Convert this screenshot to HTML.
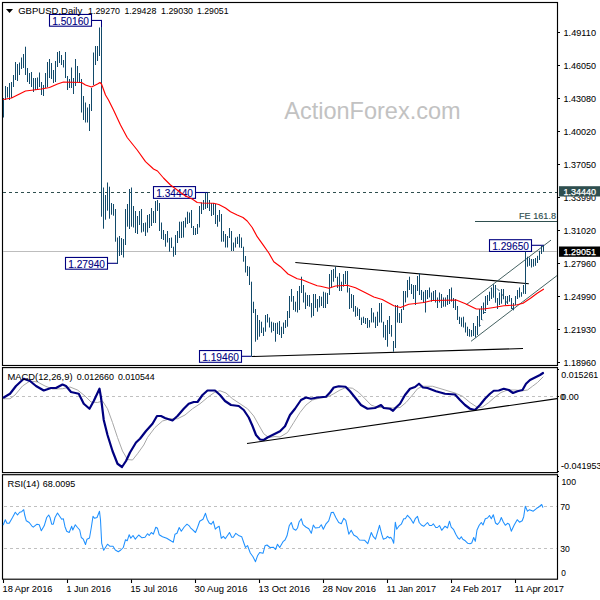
<!DOCTYPE html>
<html><head><meta charset="utf-8"><title>GBPUSD Daily</title>
<style>
html,body{margin:0;padding:0;background:#fff;}
body{width:600px;height:600px;overflow:hidden;}
svg{display:block;font-family:"Liberation Sans",sans-serif;}
</style></head><body>
<svg width="600" height="600" viewBox="0 0 600 600">
<rect width="600" height="600" fill="#fff"/>
<rect x="2.5" y="2.5" width="555" height="363" fill="none" stroke="#000" stroke-width="1.15"/>
<rect x="2.5" y="367.6" width="555" height="105.0" fill="none" stroke="#000" stroke-width="1.15"/>
<rect x="2.5" y="474.7" width="555" height="104.50000000000006" fill="none" stroke="#000" stroke-width="1.15"/>
<line x1="3" y1="251.5" x2="557" y2="251.5" stroke="#bdbdbd" stroke-width="1" shape-rendering="crispEdges" />
<line x1="3" y1="192.5" x2="557" y2="192.5" stroke="#2f4f4f" stroke-width="1" stroke-dasharray="3,3" shape-rendering="crispEdges"/>
<text x="284.2" y="118.8" font-size="23.8" fill="#c2c2c2" text-anchor="start" textLength="176.5" lengthAdjust="spacingAndGlyphs"  >ActionForex.com</text>
<line x1="475" y1="221.5" x2="557" y2="221.5" stroke="#2f4f4f" stroke-width="1" shape-rendering="crispEdges" />
<text x="519" y="219.3" font-size="9.6" fill="#2f4f4f" text-anchor="start" textLength="37" lengthAdjust="spacingAndGlyphs" stroke="#2f4f4f" stroke-width="0.15" >FE 161.8</text>
<line x1="295.3" y1="262.5" x2="528.8" y2="283.8" stroke="#000" stroke-width="1.1"/>
<line x1="252" y1="356.5" x2="523" y2="348.5" stroke="#000" stroke-width="1.1"/>
<line x1="466" y1="304.9" x2="551" y2="240.1" stroke="#2f4f4f" stroke-width="0.9"/>
<line x1="471" y1="341.3" x2="557" y2="275.6" stroke="#2f4f4f" stroke-width="0.9"/>
<rect x="49.5" y="14.45" width="42" height="11.75" fill="#fff" stroke="#000080" stroke-width="1.1"/>
<text x="52.2" y="24.7" font-size="10.8" fill="#000080" text-anchor="start" textLength="36.8" lengthAdjust="spacingAndGlyphs" stroke="#000080" stroke-width="0.1" >1.50160</text>
<line x1="91.5" y1="20.45" x2="102" y2="20.45" stroke="#000080" stroke-width="1.1"/>
<line x1="101.5" y1="20" x2="101.5" y2="28" stroke="#000080" stroke-width="1"/>
<rect x="153.5" y="186.6" width="42" height="11.75" fill="#fff" stroke="#000080" stroke-width="1.1"/>
<text x="156.2" y="196.85" font-size="10.8" fill="#000080" text-anchor="start" textLength="36.8" lengthAdjust="spacingAndGlyphs" stroke="#000080" stroke-width="0.1" >1.34440</text>
<line x1="195.5" y1="192.5" x2="208" y2="192.5" stroke="#000080" stroke-width="1.1"/>
<rect x="65.5" y="257.45" width="42" height="11.75" fill="#fff" stroke="#000080" stroke-width="1.1"/>
<text x="68.2" y="267.7" font-size="10.8" fill="#000080" text-anchor="start" textLength="36.8" lengthAdjust="spacingAndGlyphs" stroke="#000080" stroke-width="0.1" >1.27940</text>
<line x1="107.5" y1="263.3" x2="118" y2="263.3" stroke="#000080" stroke-width="1.1"/>
<rect x="199.5" y="350.55" width="42" height="11.75" fill="#fff" stroke="#000080" stroke-width="1.1"/>
<text x="202.2" y="360.8" font-size="10.8" fill="#000080" text-anchor="start" textLength="36.8" lengthAdjust="spacingAndGlyphs" stroke="#000080" stroke-width="0.1" >1.19460</text>
<line x1="241.5" y1="356.3" x2="251.5" y2="356.3" stroke="#000080" stroke-width="1.1"/>
<rect x="489.5" y="239.7" width="42" height="11.75" fill="#fff" stroke="#000080" stroke-width="1.1"/>
<text x="492.2" y="249.95" font-size="10.8" fill="#000080" text-anchor="start" textLength="36.8" lengthAdjust="spacingAndGlyphs" stroke="#000080" stroke-width="0.1" >1.29650</text>
<line x1="531.5" y1="245.3" x2="544" y2="245.3" stroke="#000080" stroke-width="1.1"/>
<rect x="3" y="98.0" width="1" height="19.5" fill="#124a6a"/>
<rect x="5" y="86.0" width="1" height="14.0" fill="#124a6a"/>
<rect x="7" y="87.0" width="1" height="10.5" fill="#124a6a"/>
<rect x="9" y="83.0" width="1" height="17.0" fill="#124a6a"/>
<rect x="11" y="82.0" width="1" height="16.0" fill="#124a6a"/>
<rect x="13" y="75.0" width="1" height="12.0" fill="#124a6a"/>
<rect x="15" y="62.0" width="1" height="18.0" fill="#124a6a"/>
<rect x="17" y="64.0" width="1" height="17.0" fill="#124a6a"/>
<rect x="19" y="62.5" width="1" height="12.5" fill="#124a6a"/>
<rect x="21" y="57.5" width="1" height="11.5" fill="#124a6a"/>
<rect x="23" y="54.0" width="1" height="14.0" fill="#124a6a"/>
<rect x="25" y="46.7" width="1" height="28.3" fill="#124a6a"/>
<rect x="27" y="68.0" width="1" height="14.0" fill="#124a6a"/>
<rect x="29" y="73.0" width="1" height="11.0" fill="#124a6a"/>
<rect x="31" y="72.0" width="1" height="15.0" fill="#124a6a"/>
<rect x="33" y="78.0" width="1" height="14.0" fill="#124a6a"/>
<rect x="35" y="78.0" width="1" height="12.0" fill="#124a6a"/>
<rect x="37" y="77.5" width="1" height="12.5" fill="#124a6a"/>
<rect x="39" y="72.5" width="1" height="14.5" fill="#124a6a"/>
<rect x="41" y="82.0" width="1" height="13.0" fill="#124a6a"/>
<rect x="43" y="85.0" width="1" height="11.0" fill="#124a6a"/>
<rect x="45" y="73.0" width="1" height="15.0" fill="#124a6a"/>
<rect x="47" y="62.0" width="1" height="25.0" fill="#124a6a"/>
<rect x="49" y="59.0" width="1" height="19.0" fill="#124a6a"/>
<rect x="51" y="63.0" width="1" height="16.0" fill="#124a6a"/>
<rect x="53" y="70.0" width="1" height="13.0" fill="#124a6a"/>
<rect x="55" y="61.0" width="1" height="21.0" fill="#124a6a"/>
<rect x="57" y="52.0" width="1" height="15.0" fill="#124a6a"/>
<rect x="59" y="51.0" width="1" height="12.0" fill="#124a6a"/>
<rect x="61" y="55.0" width="1" height="10.0" fill="#124a6a"/>
<rect x="63" y="60.0" width="1" height="7.5" fill="#124a6a"/>
<rect x="65" y="52.0" width="1" height="26.0" fill="#124a6a"/>
<rect x="67" y="76.0" width="1" height="14.0" fill="#124a6a"/>
<rect x="69" y="79.0" width="1" height="9.0" fill="#124a6a"/>
<rect x="71" y="67.5" width="1" height="20.5" fill="#124a6a"/>
<rect x="73" y="78.0" width="1" height="16.0" fill="#124a6a"/>
<rect x="75" y="59.0" width="1" height="27.0" fill="#124a6a"/>
<rect x="77" y="66.0" width="1" height="16.0" fill="#124a6a"/>
<rect x="79" y="73.0" width="1" height="10.0" fill="#124a6a"/>
<rect x="81" y="79.0" width="1" height="33.5" fill="#124a6a"/>
<rect x="83" y="96.0" width="1" height="24.0" fill="#124a6a"/>
<rect x="85" y="102.5" width="1" height="20.0" fill="#124a6a"/>
<rect x="87" y="107.5" width="1" height="15.0" fill="#124a6a"/>
<rect x="89" y="104.0" width="1" height="27.0" fill="#124a6a"/>
<rect x="91" y="88.0" width="1" height="23.0" fill="#124a6a"/>
<rect x="93" y="52.5" width="1" height="32.5" fill="#124a6a"/>
<rect x="95" y="46.0" width="1" height="19.0" fill="#124a6a"/>
<rect x="97" y="46.0" width="1" height="15.0" fill="#124a6a"/>
<rect x="99" y="27.5" width="1" height="28.5" fill="#124a6a"/>
<rect x="101" y="27.0" width="1" height="189.7" fill="#124a6a"/>
<rect x="103" y="187.5" width="1" height="41.2" fill="#124a6a"/>
<rect x="105" y="195.0" width="1" height="24.7" fill="#124a6a"/>
<rect x="107" y="182.5" width="1" height="28.2" fill="#124a6a"/>
<rect x="109" y="186.7" width="1" height="32.0" fill="#124a6a"/>
<rect x="111" y="203.0" width="1" height="11.7" fill="#124a6a"/>
<rect x="113" y="204.0" width="1" height="11.7" fill="#124a6a"/>
<rect x="115" y="209.0" width="1" height="32.7" fill="#124a6a"/>
<rect x="117" y="237.5" width="1" height="26.4" fill="#124a6a"/>
<rect x="119" y="236.0" width="1" height="20.0" fill="#124a6a"/>
<rect x="121" y="238.0" width="1" height="17.0" fill="#124a6a"/>
<rect x="123" y="239.0" width="1" height="18.5" fill="#124a6a"/>
<rect x="125" y="209.0" width="1" height="36.0" fill="#124a6a"/>
<rect x="127" y="204.0" width="1" height="22.7" fill="#124a6a"/>
<rect x="129" y="189.0" width="1" height="40.0" fill="#124a6a"/>
<rect x="131" y="187.5" width="1" height="39.2" fill="#124a6a"/>
<rect x="133" y="206.0" width="1" height="21.5" fill="#124a6a"/>
<rect x="135" y="211.0" width="1" height="22.0" fill="#124a6a"/>
<rect x="137" y="216.0" width="1" height="18.0" fill="#124a6a"/>
<rect x="139" y="211.0" width="1" height="14.0" fill="#124a6a"/>
<rect x="141" y="209.0" width="1" height="23.5" fill="#124a6a"/>
<rect x="143" y="223.0" width="1" height="8.7" fill="#124a6a"/>
<rect x="145" y="222.5" width="1" height="13.5" fill="#124a6a"/>
<rect x="147" y="215.0" width="1" height="17.5" fill="#124a6a"/>
<rect x="149" y="214.0" width="1" height="14.0" fill="#124a6a"/>
<rect x="151" y="208.0" width="1" height="18.0" fill="#124a6a"/>
<rect x="153" y="211.0" width="1" height="12.0" fill="#124a6a"/>
<rect x="155" y="201.0" width="1" height="22.0" fill="#124a6a"/>
<rect x="157" y="200.0" width="1" height="11.0" fill="#124a6a"/>
<rect x="159" y="203.0" width="1" height="28.0" fill="#124a6a"/>
<rect x="161" y="222.5" width="1" height="16.5" fill="#124a6a"/>
<rect x="163" y="230.0" width="1" height="10.0" fill="#124a6a"/>
<rect x="165" y="234.0" width="1" height="12.7" fill="#124a6a"/>
<rect x="167" y="231.0" width="1" height="11.5" fill="#124a6a"/>
<rect x="169" y="238.0" width="1" height="13.7" fill="#124a6a"/>
<rect x="171" y="237.5" width="1" height="10.5" fill="#124a6a"/>
<rect x="173" y="246.7" width="1" height="10.0" fill="#124a6a"/>
<rect x="175" y="235.0" width="1" height="20.0" fill="#124a6a"/>
<rect x="177" y="231.0" width="1" height="12.0" fill="#124a6a"/>
<rect x="179" y="221.7" width="1" height="16.3" fill="#124a6a"/>
<rect x="181" y="221.7" width="1" height="16.3" fill="#124a6a"/>
<rect x="183" y="221.0" width="1" height="16.5" fill="#124a6a"/>
<rect x="185" y="217.5" width="1" height="10.0" fill="#124a6a"/>
<rect x="187" y="211.7" width="1" height="12.3" fill="#124a6a"/>
<rect x="189" y="212.5" width="1" height="10.5" fill="#124a6a"/>
<rect x="191" y="210.0" width="1" height="18.0" fill="#124a6a"/>
<rect x="193" y="226.0" width="1" height="9.0" fill="#124a6a"/>
<rect x="195" y="228.0" width="1" height="7.0" fill="#124a6a"/>
<rect x="197" y="224.0" width="1" height="10.0" fill="#124a6a"/>
<rect x="199" y="206.0" width="1" height="21.5" fill="#124a6a"/>
<rect x="201" y="202.5" width="1" height="11.5" fill="#124a6a"/>
<rect x="203" y="200.0" width="1" height="10.0" fill="#124a6a"/>
<rect x="205" y="192.5" width="1" height="16.5" fill="#124a6a"/>
<rect x="207" y="192.5" width="1" height="15.5" fill="#124a6a"/>
<rect x="209" y="200.0" width="1" height="11.0" fill="#124a6a"/>
<rect x="211" y="203.0" width="1" height="13.0" fill="#124a6a"/>
<rect x="213" y="203.0" width="1" height="12.0" fill="#124a6a"/>
<rect x="215" y="204.0" width="1" height="20.0" fill="#124a6a"/>
<rect x="217" y="215.0" width="1" height="11.7" fill="#124a6a"/>
<rect x="219" y="210.0" width="1" height="11.7" fill="#124a6a"/>
<rect x="221" y="214.0" width="1" height="27.7" fill="#124a6a"/>
<rect x="223" y="231.0" width="1" height="10.7" fill="#124a6a"/>
<rect x="225" y="234.0" width="1" height="13.5" fill="#124a6a"/>
<rect x="227" y="236.0" width="1" height="11.5" fill="#124a6a"/>
<rect x="229" y="228.0" width="1" height="10.0" fill="#124a6a"/>
<rect x="231" y="231.0" width="1" height="20.0" fill="#124a6a"/>
<rect x="233" y="242.5" width="1" height="8.5" fill="#124a6a"/>
<rect x="235" y="237.5" width="1" height="10.0" fill="#124a6a"/>
<rect x="237" y="236.7" width="1" height="7.3" fill="#124a6a"/>
<rect x="239" y="234.0" width="1" height="13.5" fill="#124a6a"/>
<rect x="241" y="237.5" width="1" height="10.5" fill="#124a6a"/>
<rect x="243" y="246.7" width="1" height="15.0" fill="#124a6a"/>
<rect x="245" y="256.0" width="1" height="16.5" fill="#124a6a"/>
<rect x="247" y="266.0" width="1" height="10.0" fill="#124a6a"/>
<rect x="249" y="266.7" width="1" height="18.3" fill="#124a6a"/>
<rect x="251" y="281.7" width="1" height="75.0" fill="#124a6a"/>
<rect x="253" y="301.7" width="1" height="11.3" fill="#124a6a"/>
<rect x="255" y="309.0" width="1" height="32.7" fill="#124a6a"/>
<rect x="257" y="315.0" width="1" height="24.8" fill="#124a6a"/>
<rect x="259" y="320.0" width="1" height="16.7" fill="#124a6a"/>
<rect x="261" y="321.7" width="1" height="11.3" fill="#124a6a"/>
<rect x="263" y="327.5" width="1" height="8.5" fill="#124a6a"/>
<rect x="265" y="315.0" width="1" height="16.7" fill="#124a6a"/>
<rect x="267" y="314.0" width="1" height="8.5" fill="#124a6a"/>
<rect x="269" y="317.5" width="1" height="10.0" fill="#124a6a"/>
<rect x="271" y="321.7" width="1" height="10.8" fill="#124a6a"/>
<rect x="273" y="322.5" width="1" height="8.5" fill="#124a6a"/>
<rect x="275" y="323.0" width="1" height="18.7" fill="#124a6a"/>
<rect x="277" y="322.5" width="1" height="11.5" fill="#124a6a"/>
<rect x="279" y="321.0" width="1" height="14.0" fill="#124a6a"/>
<rect x="281" y="326.7" width="1" height="11.3" fill="#124a6a"/>
<rect x="283" y="322.5" width="1" height="11.5" fill="#124a6a"/>
<rect x="285" y="320.0" width="1" height="8.0" fill="#124a6a"/>
<rect x="287" y="311.0" width="1" height="15.7" fill="#124a6a"/>
<rect x="289" y="296.0" width="1" height="22.0" fill="#124a6a"/>
<rect x="291" y="289.0" width="1" height="12.7" fill="#124a6a"/>
<rect x="293" y="296.0" width="1" height="14.0" fill="#124a6a"/>
<rect x="295" y="301.7" width="1" height="10.0" fill="#124a6a"/>
<rect x="297" y="291.0" width="1" height="21.5" fill="#124a6a"/>
<rect x="299" y="286.0" width="1" height="24.0" fill="#124a6a"/>
<rect x="301" y="276.7" width="1" height="16.3" fill="#124a6a"/>
<rect x="303" y="285.0" width="1" height="17.5" fill="#124a6a"/>
<rect x="305" y="292.5" width="1" height="16.5" fill="#124a6a"/>
<rect x="307" y="295.0" width="1" height="11.0" fill="#124a6a"/>
<rect x="309" y="295.0" width="1" height="11.7" fill="#124a6a"/>
<rect x="311" y="303.0" width="1" height="14.5" fill="#124a6a"/>
<rect x="313" y="294.0" width="1" height="22.0" fill="#124a6a"/>
<rect x="315" y="294.0" width="1" height="14.0" fill="#124a6a"/>
<rect x="317" y="299.0" width="1" height="12.7" fill="#124a6a"/>
<rect x="319" y="296.0" width="1" height="11.5" fill="#124a6a"/>
<rect x="321" y="296.7" width="1" height="9.3" fill="#124a6a"/>
<rect x="323" y="291.7" width="1" height="16.3" fill="#124a6a"/>
<rect x="325" y="292.5" width="1" height="15.5" fill="#124a6a"/>
<rect x="327" y="293.0" width="1" height="11.0" fill="#124a6a"/>
<rect x="329" y="274.0" width="1" height="21.0" fill="#124a6a"/>
<rect x="331" y="270.0" width="1" height="17.5" fill="#124a6a"/>
<rect x="333" y="269.0" width="1" height="12.7" fill="#124a6a"/>
<rect x="335" y="266.7" width="1" height="11.3" fill="#124a6a"/>
<rect x="337" y="276.7" width="1" height="11.3" fill="#124a6a"/>
<rect x="339" y="273.0" width="1" height="18.0" fill="#124a6a"/>
<rect x="341" y="281.7" width="1" height="9.3" fill="#124a6a"/>
<rect x="343" y="274.0" width="1" height="12.7" fill="#124a6a"/>
<rect x="345" y="271.0" width="1" height="13.0" fill="#124a6a"/>
<rect x="347" y="271.0" width="1" height="21.5" fill="#124a6a"/>
<rect x="349" y="288.0" width="1" height="21.0" fill="#124a6a"/>
<rect x="351" y="294.0" width="1" height="14.0" fill="#124a6a"/>
<rect x="353" y="295.0" width="1" height="16.7" fill="#124a6a"/>
<rect x="355" y="306.0" width="1" height="10.7" fill="#124a6a"/>
<rect x="357" y="307.5" width="1" height="8.5" fill="#124a6a"/>
<rect x="359" y="309.0" width="1" height="11.0" fill="#124a6a"/>
<rect x="361" y="317.5" width="1" height="7.5" fill="#124a6a"/>
<rect x="363" y="316.7" width="1" height="6.3" fill="#124a6a"/>
<rect x="365" y="318.0" width="1" height="6.0" fill="#124a6a"/>
<rect x="367" y="318.0" width="1" height="10.0" fill="#124a6a"/>
<rect x="369" y="320.0" width="1" height="7.5" fill="#124a6a"/>
<rect x="371" y="308.0" width="1" height="14.5" fill="#124a6a"/>
<rect x="373" y="312.5" width="1" height="10.0" fill="#124a6a"/>
<rect x="375" y="316.7" width="1" height="11.3" fill="#124a6a"/>
<rect x="377" y="311.7" width="1" height="14.3" fill="#124a6a"/>
<rect x="379" y="303.0" width="1" height="19.5" fill="#124a6a"/>
<rect x="381" y="303.0" width="1" height="19.5" fill="#124a6a"/>
<rect x="383" y="321.7" width="1" height="15.8" fill="#124a6a"/>
<rect x="385" y="325.0" width="1" height="15.0" fill="#124a6a"/>
<rect x="387" y="320.0" width="1" height="26.7" fill="#124a6a"/>
<rect x="389" y="316.0" width="1" height="18.0" fill="#124a6a"/>
<rect x="391" y="325.0" width="1" height="11.7" fill="#124a6a"/>
<rect x="393" y="341.0" width="1" height="10.7" fill="#124a6a"/>
<rect x="395" y="305.0" width="1" height="43.0" fill="#124a6a"/>
<rect x="397" y="305.0" width="1" height="17.5" fill="#124a6a"/>
<rect x="399" y="313.0" width="1" height="10.0" fill="#124a6a"/>
<rect x="401" y="309.0" width="1" height="14.0" fill="#124a6a"/>
<rect x="403" y="291.0" width="1" height="19.0" fill="#124a6a"/>
<rect x="405" y="291.0" width="1" height="11.5" fill="#124a6a"/>
<rect x="407" y="280.0" width="1" height="17.5" fill="#124a6a"/>
<rect x="409" y="276.7" width="1" height="13.3" fill="#124a6a"/>
<rect x="411" y="284.0" width="1" height="10.0" fill="#124a6a"/>
<rect x="413" y="285.0" width="1" height="14.0" fill="#124a6a"/>
<rect x="415" y="285.0" width="1" height="20.0" fill="#124a6a"/>
<rect x="417" y="276.0" width="1" height="15.0" fill="#124a6a"/>
<rect x="419" y="273.0" width="1" height="22.0" fill="#124a6a"/>
<rect x="421" y="290.0" width="1" height="10.0" fill="#124a6a"/>
<rect x="423" y="291.7" width="1" height="11.3" fill="#124a6a"/>
<rect x="425" y="290.0" width="1" height="22.5" fill="#124a6a"/>
<rect x="427" y="290.0" width="1" height="9.0" fill="#124a6a"/>
<rect x="429" y="287.5" width="1" height="10.0" fill="#124a6a"/>
<rect x="431" y="292.5" width="1" height="9.2" fill="#124a6a"/>
<rect x="433" y="291.0" width="1" height="9.0" fill="#124a6a"/>
<rect x="435" y="290.0" width="1" height="12.5" fill="#124a6a"/>
<rect x="437" y="297.5" width="1" height="10.5" fill="#124a6a"/>
<rect x="439" y="292.5" width="1" height="10.0" fill="#124a6a"/>
<rect x="441" y="294.0" width="1" height="14.0" fill="#124a6a"/>
<rect x="443" y="297.5" width="1" height="9.2" fill="#124a6a"/>
<rect x="445" y="297.5" width="1" height="9.2" fill="#124a6a"/>
<rect x="447" y="295.0" width="1" height="10.0" fill="#124a6a"/>
<rect x="449" y="289.0" width="1" height="15.0" fill="#124a6a"/>
<rect x="451" y="287.5" width="1" height="14.2" fill="#124a6a"/>
<rect x="453" y="298.0" width="1" height="10.0" fill="#124a6a"/>
<rect x="455" y="299.0" width="1" height="11.0" fill="#124a6a"/>
<rect x="457" y="306.0" width="1" height="14.0" fill="#124a6a"/>
<rect x="459" y="316.7" width="1" height="7.3" fill="#124a6a"/>
<rect x="461" y="317.5" width="1" height="9.2" fill="#124a6a"/>
<rect x="463" y="316.7" width="1" height="10.8" fill="#124a6a"/>
<rect x="465" y="322.5" width="1" height="10.0" fill="#124a6a"/>
<rect x="467" y="326.7" width="1" height="9.3" fill="#124a6a"/>
<rect x="469" y="329.0" width="1" height="7.7" fill="#124a6a"/>
<rect x="471" y="330.0" width="1" height="6.7" fill="#124a6a"/>
<rect x="473" y="323.0" width="1" height="13.0" fill="#124a6a"/>
<rect x="475" y="326.0" width="1" height="11.5" fill="#124a6a"/>
<rect x="477" y="316.0" width="1" height="19.0" fill="#124a6a"/>
<rect x="479" y="309.0" width="1" height="17.7" fill="#124a6a"/>
<rect x="481" y="306.0" width="1" height="14.0" fill="#124a6a"/>
<rect x="483" y="302.5" width="1" height="11.5" fill="#124a6a"/>
<rect x="485" y="296.0" width="1" height="15.0" fill="#124a6a"/>
<rect x="487" y="295.0" width="1" height="10.0" fill="#124a6a"/>
<rect x="489" y="291.7" width="1" height="9.3" fill="#124a6a"/>
<rect x="491" y="287.5" width="1" height="11.5" fill="#124a6a"/>
<rect x="493" y="284.3" width="1" height="13.4" fill="#124a6a"/>
<rect x="495" y="285.0" width="1" height="17.7" fill="#124a6a"/>
<rect x="497" y="298.0" width="1" height="11.0" fill="#124a6a"/>
<rect x="499" y="292.5" width="1" height="12.5" fill="#124a6a"/>
<rect x="501" y="289.0" width="1" height="14.7" fill="#124a6a"/>
<rect x="503" y="289.0" width="1" height="10.3" fill="#124a6a"/>
<rect x="505" y="296.0" width="1" height="9.0" fill="#124a6a"/>
<rect x="507" y="296.0" width="1" height="8.0" fill="#124a6a"/>
<rect x="509" y="295.0" width="1" height="6.7" fill="#124a6a"/>
<rect x="511" y="298.0" width="1" height="11.0" fill="#124a6a"/>
<rect x="513" y="303.0" width="1" height="7.3" fill="#124a6a"/>
<rect x="515" y="296.0" width="1" height="9.0" fill="#124a6a"/>
<rect x="517" y="290.0" width="1" height="9.0" fill="#124a6a"/>
<rect x="519" y="287.5" width="1" height="10.0" fill="#124a6a"/>
<rect x="521" y="292.2" width="1" height="4.5" fill="#124a6a"/>
<rect x="523" y="285.0" width="1" height="8.8" fill="#124a6a"/>
<rect x="525" y="251.7" width="1" height="42.3" fill="#124a6a"/>
<rect x="527" y="256.7" width="1" height="10.0" fill="#124a6a"/>
<rect x="529" y="257.5" width="1" height="8.3" fill="#124a6a"/>
<rect x="531" y="259.0" width="1" height="8.5" fill="#124a6a"/>
<rect x="533" y="259.0" width="1" height="7.7" fill="#124a6a"/>
<rect x="535" y="258.0" width="1" height="7.8" fill="#124a6a"/>
<rect x="537" y="255.8" width="1" height="7.2" fill="#124a6a"/>
<rect x="539" y="250.8" width="1" height="9.2" fill="#124a6a"/>
<rect x="541" y="245.8" width="1" height="8.2" fill="#124a6a"/>
<rect x="543" y="245.3" width="1" height="6.4" fill="#124a6a"/>
<line x1="497" y1="288.5" x2="499.5" y2="291" stroke="#124a6a" stroke-width="0.9"/>
<line x1="502" y1="295" x2="503.6" y2="295" stroke="#124a6a" stroke-width="0.9"/>
<line x1="506" y1="302" x2="507.6" y2="302" stroke="#124a6a" stroke-width="0.9"/>
<line x1="484" y1="312.5" x2="486" y2="312.5" stroke="#124a6a" stroke-width="0.9"/>
<line x1="481.3" y1="319" x2="482.6" y2="320.3" stroke="#124a6a" stroke-width="0.9"/>
<line x1="479.3" y1="324.5" x2="480.6" y2="325.8" stroke="#124a6a" stroke-width="0.9"/>
<line x1="511.5" y1="308.5" x2="514" y2="308.5" stroke="#124a6a" stroke-width="0.9"/>
<line x1="491" y1="288.3" x2="491.6" y2="289.6" stroke="#124a6a" stroke-width="0.9"/>
<polyline points="3.50,99.50 11.50,98.00 25.50,91.00 33.50,90.00 41.50,89.00 49.50,87.50 57.50,84.00 63.50,82.00 81.50,82.50 85.50,85.00 91.50,87.00 97.50,84.00 100.00,82.50 101.50,84.00 105.50,95.00 108.50,100.00 113.50,110.00 120.50,125.00 127.20,137.50 137.20,150.00 145.50,161.70 153.50,169.00 157.50,171.00 163.50,178.00 170.50,185.00 180.50,192.50 185.50,196.00 192.20,199.00 197.20,202.50 202.20,203.00 213.80,203.30 218.80,204.50 225.50,208.00 230.50,211.70 237.20,215.00 243.00,217.50 247.20,221.00 252.20,227.50 257.20,236.70 263.80,245.80 268.80,253.00 273.80,261.70 280.50,266.70 288.00,274.00 297.20,278.80 302.20,279.70 308.80,282.50 317.20,285.80 320.50,286.30 328.80,288.30 335.50,286.00 347.20,285.30 355.50,287.80 365.50,292.80 373.80,297.00 382.20,299.50 393.80,305.80 400.50,307.50 408.80,304.20 415.50,303.50 423.80,302.50 432.20,300.50 456.30,300.00 465.50,303.70 476.30,309.00 483.80,309.00 493.80,307.50 503.80,305.80 516.30,305.00 523.00,303.30 530.50,298.30 537.20,293.30 543.50,289.20" fill="none" stroke="#ff0000" stroke-width="1.15" stroke-linejoin="round" stroke-linecap="round" />
<line x1="558" y1="32.5" x2="560" y2="32.5" stroke="#000" stroke-width="1" shape-rendering="crispEdges" />
<text x="563.5" y="36" font-size="9.8" fill="#000" text-anchor="start" textLength="32.5" lengthAdjust="spacingAndGlyphs" stroke="#000" stroke-width="0.05" >1.49110</text>
<line x1="558" y1="65.5" x2="560" y2="65.5" stroke="#000" stroke-width="1" shape-rendering="crispEdges" />
<text x="563.5" y="69" font-size="9.8" fill="#000" text-anchor="start" textLength="32.5" lengthAdjust="spacingAndGlyphs" stroke="#000" stroke-width="0.05" >1.46050</text>
<line x1="558" y1="98.5" x2="560" y2="98.5" stroke="#000" stroke-width="1" shape-rendering="crispEdges" />
<text x="563.5" y="102" font-size="9.8" fill="#000" text-anchor="start" textLength="32.5" lengthAdjust="spacingAndGlyphs" stroke="#000" stroke-width="0.05" >1.43080</text>
<line x1="558" y1="131.5" x2="560" y2="131.5" stroke="#000" stroke-width="1" shape-rendering="crispEdges" />
<text x="563.5" y="135" font-size="9.8" fill="#000" text-anchor="start" textLength="32.5" lengthAdjust="spacingAndGlyphs" stroke="#000" stroke-width="0.05" >1.40020</text>
<line x1="558" y1="164.5" x2="560" y2="164.5" stroke="#000" stroke-width="1" shape-rendering="crispEdges" />
<text x="563.5" y="168" font-size="9.8" fill="#000" text-anchor="start" textLength="32.5" lengthAdjust="spacingAndGlyphs" stroke="#000" stroke-width="0.05" >1.37050</text>
<line x1="558" y1="197.5" x2="560" y2="197.5" stroke="#000" stroke-width="1" shape-rendering="crispEdges" />
<text x="563.5" y="201" font-size="9.8" fill="#000" text-anchor="start" textLength="32.5" lengthAdjust="spacingAndGlyphs" stroke="#000" stroke-width="0.05" >1.33990</text>
<line x1="558" y1="230.5" x2="560" y2="230.5" stroke="#000" stroke-width="1" shape-rendering="crispEdges" />
<text x="563.5" y="234" font-size="9.8" fill="#000" text-anchor="start" textLength="32.5" lengthAdjust="spacingAndGlyphs" stroke="#000" stroke-width="0.05" >1.31020</text>
<line x1="558" y1="263.5" x2="560" y2="263.5" stroke="#000" stroke-width="1" shape-rendering="crispEdges" />
<text x="563.5" y="267" font-size="9.8" fill="#000" text-anchor="start" textLength="32.5" lengthAdjust="spacingAndGlyphs" stroke="#000" stroke-width="0.05" >1.27960</text>
<line x1="558" y1="296.5" x2="560" y2="296.5" stroke="#000" stroke-width="1" shape-rendering="crispEdges" />
<text x="563.5" y="300" font-size="9.8" fill="#000" text-anchor="start" textLength="32.5" lengthAdjust="spacingAndGlyphs" stroke="#000" stroke-width="0.05" >1.24990</text>
<line x1="558" y1="329.5" x2="560" y2="329.5" stroke="#000" stroke-width="1" shape-rendering="crispEdges" />
<text x="563.5" y="333" font-size="9.8" fill="#000" text-anchor="start" textLength="32.5" lengthAdjust="spacingAndGlyphs" stroke="#000" stroke-width="0.05" >1.21930</text>
<line x1="558" y1="362.5" x2="560" y2="362.5" stroke="#000" stroke-width="1" shape-rendering="crispEdges" />
<text x="563.5" y="366" font-size="9.8" fill="#000" text-anchor="start" textLength="32.5" lengthAdjust="spacingAndGlyphs" stroke="#000" stroke-width="0.05" >1.18960</text>
<rect x="559" y="186.2" width="41" height="10.3" fill="#2f4f4f"/>
<text x="563.5" y="194.8" font-size="9.8" fill="#fff" text-anchor="start" textLength="32.5" lengthAdjust="spacingAndGlyphs" stroke="#fff" stroke-width="0.25" >1.34440</text>
<rect x="559" y="246.5" width="41" height="10.3" fill="#000"/>
<text x="563.5" y="254.8" font-size="9.8" fill="#fff" text-anchor="start" textLength="32.5" lengthAdjust="spacingAndGlyphs" stroke="#fff" stroke-width="0.25" >1.29051</text>
<polygon points="6,9 13,9 9.5,13" fill="#000"/>
<text x="18.2" y="14" font-size="9.8" fill="#000" text-anchor="start" textLength="64" lengthAdjust="spacingAndGlyphs" stroke="#000" stroke-width="0.05" >GBPUSD,Daily</text>
<text x="88" y="14" font-size="9.8" fill="#000" text-anchor="start" textLength="32" lengthAdjust="spacingAndGlyphs" stroke="#000" stroke-width="0.05" >1.29270</text>
<text x="124.4" y="14" font-size="9.8" fill="#000" text-anchor="start" textLength="32" lengthAdjust="spacingAndGlyphs" stroke="#000" stroke-width="0.05" >1.29428</text>
<text x="161" y="14" font-size="9.8" fill="#000" text-anchor="start" textLength="32" lengthAdjust="spacingAndGlyphs" stroke="#000" stroke-width="0.05" >1.29030</text>
<text x="197" y="14" font-size="9.8" fill="#000" text-anchor="start" textLength="31.5" lengthAdjust="spacingAndGlyphs" stroke="#000" stroke-width="0.05" >1.29051</text>
<line x1="3" y1="396.5" x2="557" y2="396.5" stroke="#c0c0c0" stroke-width="1" stroke-dasharray="3,3" stroke-dashoffset="5" shape-rendering="crispEdges"/>
<polyline points="3.75,398.75 10.00,398.75 15.00,395.00 22.50,386.00 30.00,381.00 37.50,382.00 45.00,386.00 52.50,389.00 62.50,388.75 70.00,387.00 77.50,390.00 85.00,396.00 91.00,402.00 97.50,402.50 102.50,401.00 107.50,408.75 112.50,422.50 117.50,437.50 122.50,451.00 127.50,459.50 132.50,460.00 137.50,453.75 143.75,445.00 147.50,437.50 155.00,427.50 162.50,421.00 170.00,418.75 177.50,418.75 185.00,415.00 192.50,408.75 200.00,403.75 207.50,397.50 215.00,392.00 220.00,390.75 226.00,393.00 232.50,398.75 240.00,403.75 247.50,408.75 253.75,416.00 258.75,425.00 263.75,433.75 268.75,437.50 275.00,436.50 280.00,437.00 287.50,432.50 293.75,422.50 300.00,412.50 306.00,405.00 312.50,400.00 320.00,398.00 327.50,397.00 333.75,393.75 340.00,390.00 346.00,387.50 352.50,388.25 358.75,392.50 365.00,398.75 371.00,405.00 377.50,407.50 385.00,407.50 392.50,408.00 400.00,407.50 406.00,402.50 412.50,395.00 417.50,388.75 422.50,386.25 432.50,386.25 445.00,390.00 455.00,393.00 462.50,396.25 470.00,402.50 477.50,407.50 482.50,407.00 488.75,402.50 495.00,397.00 501.00,392.50 507.50,390.00 515.00,390.00 522.50,390.75 527.50,390.00 532.50,386.25 537.50,382.50 543.00,377.00" fill="none" stroke="#a8a8a8" stroke-width="1.0" stroke-linejoin="round" stroke-linecap="round" />
<polyline points="3.75,397.50 10.00,393.75 16.00,386.00 23.75,378.75 30.00,381.00 36.00,386.00 43.75,390.50 51.00,388.00 56.00,388.00 62.50,384.50 66.00,386.00 71.00,392.00 78.75,393.75 83.75,403.75 89.50,408.75 93.75,401.00 99.50,388.75 101.00,397.50 103.75,420.00 107.50,435.00 112.50,451.00 117.50,463.75 122.00,467.00 126.00,461.00 130.00,452.50 136.00,442.50 140.00,438.75 146.00,431.00 152.50,423.75 157.00,416.00 161.00,416.00 165.00,418.00 172.50,420.50 177.50,416.00 183.75,408.75 188.75,403.75 193.75,402.00 197.50,402.00 202.50,395.00 207.50,390.50 215.00,390.50 220.00,395.00 225.00,401.00 231.00,405.00 238.75,406.00 243.75,410.00 248.75,417.50 252.50,426.00 256.00,435.00 260.00,439.50 263.75,440.00 267.50,437.50 275.00,433.75 280.00,431.25 285.00,426.25 290.00,415.00 295.00,408.75 301.00,400.00 306.00,397.50 311.00,398.75 317.50,397.50 326.00,396.75 330.00,392.50 333.75,387.50 338.75,386.25 345.50,386.75 350.00,391.25 355.00,397.50 361.00,405.00 367.50,408.75 375.00,408.00 381.00,405.00 383.75,408.00 390.00,408.75 393.00,410.75 396.00,407.50 400.00,403.75 405.00,395.00 410.00,388.75 415.00,387.00 419.00,383.75 423.00,387.50 427.50,388.00 436.00,391.25 445.00,393.75 455.00,394.50 460.00,400.00 465.00,405.00 470.00,408.75 475.00,410.00 480.00,405.00 485.00,398.75 490.00,393.75 493.75,390.75 498.75,390.50 503.75,388.75 508.75,390.00 513.00,393.00 517.50,391.25 522.50,390.00 526.00,383.75 530.00,380.00 535.00,377.50 540.00,375.00 543.00,373.00" fill="none" stroke="#000080" stroke-width="2.2" stroke-linejoin="round" stroke-linecap="round" />
<line x1="247" y1="443.5" x2="557" y2="398.6" stroke="#000" stroke-width="1.1"/>
<text x="7.5" y="379.8" font-size="9.8" fill="#000" text-anchor="start" textLength="65" lengthAdjust="spacingAndGlyphs" stroke="#000" stroke-width="0.05" >MACD(12,26,9)</text>
<text x="76.8" y="379.8" font-size="9.8" fill="#000" text-anchor="start" textLength="37.2" lengthAdjust="spacingAndGlyphs" stroke="#000" stroke-width="0.05" >0.012660</text>
<text x="117.9" y="379.8" font-size="9.8" fill="#000" text-anchor="start" textLength="36.8" lengthAdjust="spacingAndGlyphs" stroke="#000" stroke-width="0.05" >0.010544</text>
<text x="561.3" y="378" font-size="9.8" fill="#000" text-anchor="start" textLength="37" lengthAdjust="spacingAndGlyphs" stroke="#000" stroke-width="0.05" >0.015261</text>
<text x="560" y="399.6" font-size="9.8" fill="#000" text-anchor="start" textLength="4.8" lengthAdjust="spacingAndGlyphs" stroke="#000" stroke-width="0.05" >0</text>
<text x="561.3" y="399.6" font-size="9.8" fill="#000" text-anchor="start" textLength="17.5" lengthAdjust="spacingAndGlyphs" stroke="#000" stroke-width="0.05" >0.00</text>
<line x1="558" y1="396.5" x2="559" y2="396.5" stroke="#000" stroke-width="1" shape-rendering="crispEdges" />
<line x1="558" y1="369.5" x2="559" y2="369.5" stroke="#000" stroke-width="1" shape-rendering="crispEdges" />
<line x1="558" y1="471.5" x2="559" y2="471.5" stroke="#000" stroke-width="1" shape-rendering="crispEdges" />
<line x1="558" y1="476.5" x2="559" y2="476.5" stroke="#000" stroke-width="1" shape-rendering="crispEdges" />
<text x="561" y="468.5" font-size="9.8" fill="#000" text-anchor="start" textLength="40.5" lengthAdjust="spacingAndGlyphs" stroke="#000" stroke-width="0.05" >-0.041953</text>
<line x1="3" y1="506.5" x2="557" y2="506.5" stroke="#c0c0c0" stroke-width="1" stroke-dasharray="3,3" stroke-dashoffset="5" shape-rendering="crispEdges"/>
<line x1="3" y1="548.5" x2="557" y2="548.5" stroke="#c0c0c0" stroke-width="1" stroke-dasharray="3,3" stroke-dashoffset="5" shape-rendering="crispEdges"/>
<polyline points="3.30,524.70 5.30,519.70 7.00,523.30 9.20,523.30 12.50,517.50 15.30,512.20 17.50,515.00 19.70,512.20 21.70,511.70 23.70,509.70 24.70,515.00 26.30,520.80 29.20,522.50 31.70,525.80 33.30,527.20 37.00,524.20 39.20,524.70 41.30,530.80 44.20,525.80 46.70,517.50 48.70,515.00 50.00,517.50 51.70,524.20 53.30,524.20 55.00,517.50 57.50,513.00 60.00,516.70 61.70,519.20 63.30,518.70 65.00,526.70 66.70,531.30 69.20,532.50 71.70,526.30 72.80,530.00 75.30,524.70 77.50,527.50 79.70,530.00 81.30,537.50 83.30,539.20 85.50,544.50 87.00,539.20 89.50,538.00 91.30,527.50 93.00,516.30 94.70,518.30 97.00,517.50 99.50,511.20 100.50,520.00 101.70,543.30 103.70,550.30 107.50,544.20 110.00,546.30 113.00,546.30 115.30,550.00 118.30,551.70 120.80,550.00 123.30,547.50 125.50,539.70 127.20,540.80 129.20,534.70 130.80,538.30 133.00,535.50 135.30,539.20 138.70,535.00 142.00,537.80 145.00,537.20 147.50,533.70 149.20,535.50 151.30,532.50 153.30,534.20 155.80,527.20 157.50,528.30 159.20,534.70 162.50,536.70 166.70,538.30 170.80,540.80 173.30,542.20 175.00,534.20 177.00,533.30 179.20,527.50 181.30,531.30 184.20,527.00 187.00,524.20 189.20,525.80 190.50,527.80 192.50,529.70 195.50,532.50 197.50,527.50 199.70,521.30 203.00,519.20 205.50,513.30 207.20,519.20 209.20,523.00 211.30,524.20 213.30,521.30 215.30,529.20 217.50,527.20 219.20,526.30 221.30,538.30 223.30,536.30 225.30,538.70 229.50,532.50 231.70,537.20 233.30,537.20 235.80,533.30 239.20,535.80 241.70,536.70 243.70,542.50 245.50,547.50 247.50,545.50 250.30,553.00 253.00,556.70 255.50,561.70 257.50,555.80 259.70,552.50 263.00,553.30 265.00,545.80 267.00,545.00 270.00,547.50 273.30,547.20 275.50,549.50 277.50,544.20 279.70,547.50 283.30,541.30 285.00,540.00 287.00,535.80 289.20,525.80 291.30,522.50 293.30,528.80 295.80,530.30 297.50,528.00 299.20,521.70 301.30,518.80 303.00,524.70 305.80,527.00 308.80,528.80 311.30,533.30 313.30,525.00 315.30,528.00 319.20,527.50 321.30,524.70 323.30,529.20 325.80,524.20 328.70,520.80 331.30,512.50 333.30,512.20 335.80,517.50 338.70,522.50 341.30,523.80 343.80,518.30 345.80,520.30 348.80,534.20 351.20,530.30 353.70,535.00 356.70,536.70 359.50,540.00 364.70,540.30 367.80,543.70 371.30,532.50 373.30,536.70 375.50,539.20 379.50,525.30 381.70,534.20 383.30,539.20 385.80,538.30 387.50,536.30 389.50,538.00 390.80,537.20 392.50,540.00 393.70,543.30 395.30,522.20 396.70,529.20 399.20,525.80 401.30,524.20 403.70,518.80 405.30,518.80 407.50,515.30 410.30,518.30 413.30,523.30 415.50,518.30 417.50,516.30 419.20,522.50 421.30,525.00 423.70,526.30 427.50,522.50 429.50,525.50 431.70,525.50 433.30,523.80 435.80,527.50 437.50,527.50 439.50,525.50 441.70,530.30 445.00,526.20 447.50,528.00 449.50,521.20 451.20,527.20 453.70,529.70 455.80,534.20 458.00,538.00 459.50,539.20 461.30,536.70 462.80,539.20 465.30,540.80 467.80,543.30 470.00,543.70 471.70,543.00 473.70,537.50 475.30,541.30 477.00,530.00 479.20,525.30 481.30,522.50 483.00,525.00 485.30,518.80 487.50,518.00 489.50,515.50 491.30,518.80 493.30,514.70 495.50,523.00 497.50,524.50 499.70,521.70 501.30,517.50 503.30,522.00 505.30,525.30 507.50,523.30 509.20,524.20 511.30,531.20 514.20,525.00 517.20,519.70 519.50,522.20 522.20,520.80 523.70,516.70 525.30,506.30 527.50,511.20 529.50,509.70 533.30,511.20 536.70,508.30 539.20,506.70 541.70,504.50 542.80,507.20" fill="none" stroke="#1e90ff" stroke-width="1.05" stroke-linejoin="round" stroke-linecap="round" />
<text x="7.5" y="486.8" font-size="9.8" fill="#000" text-anchor="start" textLength="32" lengthAdjust="spacingAndGlyphs" stroke="#000" stroke-width="0.05" >RSI(14)</text>
<text x="42.7" y="486.8" font-size="9.8" fill="#000" text-anchor="start" textLength="32.5" lengthAdjust="spacingAndGlyphs" stroke="#000" stroke-width="0.05" >68.0095</text>
<text x="561.5" y="484.8" font-size="9.8" fill="#000" text-anchor="start" textLength="14.5" lengthAdjust="spacingAndGlyphs" stroke="#000" stroke-width="0.05" >100</text>
<text x="560.2" y="509.8" font-size="9.8" fill="#000" text-anchor="start" textLength="9.8" lengthAdjust="spacingAndGlyphs" stroke="#000" stroke-width="0.05" >70</text>
<text x="560.3" y="551.7" font-size="9.8" fill="#000" text-anchor="start" textLength="9.6" lengthAdjust="spacingAndGlyphs" stroke="#000" stroke-width="0.05" >30</text>
<text x="561.3" y="575.8" font-size="9.8" fill="#000" text-anchor="start" textLength="4.6" lengthAdjust="spacingAndGlyphs" stroke="#000" stroke-width="0.05" >0</text>
<line x1="3.5" y1="579.5" x2="3.5" y2="583" stroke="#000" stroke-width="1.1"/>
<text x="2.5" y="591.8" font-size="9.8" fill="#000" text-anchor="start" textLength="50" lengthAdjust="spacingAndGlyphs" stroke="#000" stroke-width="0.05" >18 Apr 2016</text>
<line x1="67.5" y1="579.5" x2="67.5" y2="583" stroke="#000" stroke-width="1.1"/>
<text x="66.5" y="591.8" font-size="9.8" fill="#000" text-anchor="start" textLength="44.5" lengthAdjust="spacingAndGlyphs" stroke="#000" stroke-width="0.05" >1 Jun 2016</text>
<line x1="131.5" y1="579.5" x2="131.5" y2="583" stroke="#000" stroke-width="1.1"/>
<text x="130.5" y="591.8" font-size="9.8" fill="#000" text-anchor="start" textLength="47" lengthAdjust="spacingAndGlyphs" stroke="#000" stroke-width="0.05" >15 Jul 2016</text>
<line x1="195.5" y1="579.5" x2="195.5" y2="583" stroke="#000" stroke-width="1.1"/>
<text x="194.5" y="591.8" font-size="9.8" fill="#000" text-anchor="start" textLength="53" lengthAdjust="spacingAndGlyphs" stroke="#000" stroke-width="0.05" >30 Aug 2016</text>
<line x1="259.5" y1="579.5" x2="259.5" y2="583" stroke="#000" stroke-width="1.1"/>
<text x="258.5" y="591.8" font-size="9.8" fill="#000" text-anchor="start" textLength="51.5" lengthAdjust="spacingAndGlyphs" stroke="#000" stroke-width="0.05" >13 Oct 2016</text>
<line x1="323.5" y1="579.5" x2="323.5" y2="583" stroke="#000" stroke-width="1.1"/>
<text x="322.5" y="591.8" font-size="9.8" fill="#000" text-anchor="start" textLength="53.5" lengthAdjust="spacingAndGlyphs" stroke="#000" stroke-width="0.05" >28 Nov 2016</text>
<line x1="387.5" y1="579.5" x2="387.5" y2="583" stroke="#000" stroke-width="1.1"/>
<text x="386.5" y="591.8" font-size="9.8" fill="#000" text-anchor="start" textLength="49.5" lengthAdjust="spacingAndGlyphs" stroke="#000" stroke-width="0.05" >11 Jan 2017</text>
<line x1="451.5" y1="579.5" x2="451.5" y2="583" stroke="#000" stroke-width="1.1"/>
<text x="450.5" y="591.8" font-size="9.8" fill="#000" text-anchor="start" textLength="51" lengthAdjust="spacingAndGlyphs" stroke="#000" stroke-width="0.05" >24 Feb 2017</text>
<line x1="515.5" y1="579.5" x2="515.5" y2="583" stroke="#000" stroke-width="1.1"/>
<text x="514.5" y="591.8" font-size="9.8" fill="#000" text-anchor="start" textLength="49.5" lengthAdjust="spacingAndGlyphs" stroke="#000" stroke-width="0.05" >11 Apr 2017</text>
</svg>
</body></html>
